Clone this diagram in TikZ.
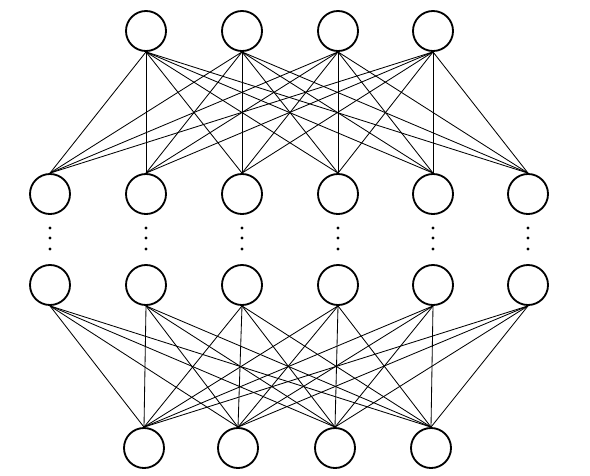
\documentclass[tikz,border=0pt]{standalone}
\usetikzlibrary{positioning}
\begin{document}
\begin{tikzpicture}[
        x=0.025cm,
        y=-0.025cm,
        neuron/.style={
            circle,
            draw,
            line width=1.3pt,
            minimum size=1cm,
            inner sep=0pt
        },
        link/.style={
            line width=0.6pt
        }
    ]
    \useasboundingbox (0,0) rectangle (590,475);

    % top layer
    \foreach \i/\x in {1/146,2/242,3/338,4/433}
        \node[neuron] (top\i) at (\x,31) {};

    % hidden layers with dots in between
    \foreach \i/\x in {1/50,2/146,3/242,4/338,5/433,6/528}
    {
        \node[neuron] (hup\i) at (\x,194) {};
        \node[neuron] (hlo\i) at (\x,285) {};
        \foreach \d in {228,238,249}
            \fill (\x,\d) circle (1.7);
    }

    % bottom layer
    \foreach \i/\x in {1/144,2/238,3/335,4/431}
        \node[neuron] (bot\i) at (\x,448) {};

    \foreach \t in {1,...,4}
        \foreach \h in {1,...,6}
        {
            \draw[link] (top\t.south) -- (hup\h.north);
            \draw[link] (hlo\h.south) -- (bot\t.north);
        }

\end{tikzpicture}
\end{document}
